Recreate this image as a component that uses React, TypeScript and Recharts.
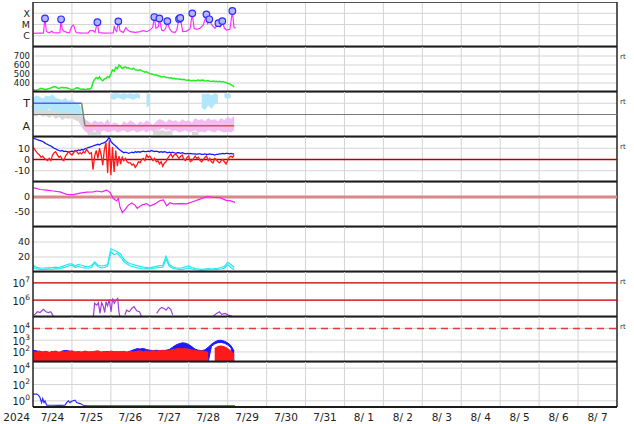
import React from 'react';
import { ComposedChart, Line, Area, XAxis, YAxis, CartesianGrid, ReferenceLine } from 'recharts';

// time axis is hours since 2024-07-24 00:00 UT, 15 days wide
const YEAR = '2024';
const dayLabels = ['7/24', '7/25', '7/26', '7/27', '7/28', '7/29', '7/30', '7/31', '8/ 1', '8/ 2', '8/ 3', '8/ 4', '8/ 5', '8/ 6', '8/ 7'];

// X-ray flux (uW/m2): background + flare peaks
const xrayHours = [0.2, 3, 6.4, 8.2, 9.5, 10.5, 11.5, 12.5, 14.5, 16.6, 17.9, 18.7, 20.8, 22.5, 23.8, 24.9, 25.5, 26.3, 26.9, 30, 34.1, 35.1, 37.2, 38.2, 40.5, 44, 49.5, 50.1, 50.8, 51.6, 53.6, 55.7, 57.3, 58.4, 59.8, 63, 66, 68, 70.1, 72.1, 73.8, 75.8, 77.3, 79.3, 80.4, 81.8, 84, 85.5, 87.5, 88.6, 92.3, 94.7, 96.8, 99.3, 100.9, 103, 105, 107.7, 110.2, 112.2, 115.3, 118, 119.4, 121.4, 123.9, 124.9];
const xrayFlux = [1.64, 1.7, 1.7, 2.4, 1.9, 2.0, 2.6, 1.9, 1.8, 1.9, 4.6, 2.6, 2.0, 1.9, 6.4, 9.0, 5.6, 2.3, 1.9, 1.7, 1.8, 2.8, 2.8, 2.0, 1.9, 1.7, 1.8, 7.4, 3.2, 2.3, 2.8, 2.0, 5.2, 3.2, 2.3, 2.0, 2.3, 2.8, 2.3, 3.2, 5.6, 4.6, 6.4, 3.2, 2.6, 4.6, 4.6, 2.3, 1.9, 3.2, 2.3, 2.6, 4.0, 4.6, 3.7, 4.6, 9.0, 12.7, 9.0, 4.6, 6.4, 4.6, 3.2, 3.7, 5.6, 4.6];
const flareHours = [7.4, 17.3, 39.7, 52.6, 74.8, 77.9, 82.8, 90.0, 90.8, 98.2, 106.9, 108.7, 114.3, 116.7, 122.9];
const flareFlux = [35, 29, 16, 19, 46, 35, 20, 31, 38, 98, 80, 29, 13, 20, 158];

// solar wind speed (km/s), hourly
const windSpeed = [
  328, 322, 320, 326, 333, 340, 336, 330, 328, 334,
  338, 345, 352, 362, 358, 345, 342, 348, 352, 345,
  350, 344, 338, 332, 328, 330, 338, 348, 342, 332,
  330, 334, 328, 330, 336, 332, 345, 410, 440, 462,
  448, 470, 438, 425, 445, 452, 470, 462, 500, 545,
  530, 575, 558, 600, 585, 560, 572, 580, 565, 570,
  560, 552, 565, 548, 545, 540, 548, 535, 530, 520,
  525, 512, 505, 500, 496, 488, 492, 480, 478, 470,
  466, 472, 462, 460, 455, 458, 450, 452, 445, 448,
  440, 444, 436, 440, 434, 430, 432, 428, 426, 430,
  424, 428, 432, 426, 434, 430, 425, 422, 428, 420,
  418, 422, 416, 420, 415, 418, 412, 416, 410, 405,
  398, 392, 380, 372, 355,
];

// IMF sector: [hour, low, high] on a 0..4 scale (A = 1, T = 3)
const imfMixed: [number, number, number][] = [
  [0, 1.9, 2.5], [2, 1.8, 2.4], [4, 2.0, 2.6], [6, 1.8, 2.3], [8, 1.9, 2.5], [10, 1.7, 2.4], [12, 1.9, 2.4], [14, 1.6, 2.3],
  [16, 1.8, 2.5], [18, 1.5, 2.2], [20, 1.7, 2.4], [22, 1.6, 2.2], [24, 1.7, 2.3], [26, 1.5, 2.1], [28, 1.4, 2.2], [30, 0.9, 2.0],
  [32, 0.8, 1.4], [34, 0.15, 0.5], [36, 0.2, 0.6], [38, 0.15, 0.45], [40, 0.2, 0.55], [42, 0.15, 0.5],
  [74, 0.15, 0.6], [76, 0.2, 0.7], [78, 0.15, 0.55], [80, 0.2, 0.65], [82, 0.15, 0.5], [84, 0.2, 0.6], [86, 0.15, 0.5],
  [98, 0.15, 0.45], [100, 0.2, 0.5], [102, 0.15, 0.4],
];
const imfToward: [number, number, number][] = [
  [0, 2.4, 3.5], [2, 2.3, 3.7], [4, 2.5, 3.6], [6, 2.3, 3.4], [8, 2.4, 3.7], [10, 2.5, 3.6], [12, 2.3, 3.8], [14, 2.2, 3.5],
  [16, 2.4, 3.4], [18, 2.1, 3.3], [20, 2.3, 3.5], [22, 2.1, 3.2], [24, 2.2, 3.4], [26, 2.0, 3.1], [28, 2.1, 3.0], [30, 1.6, 2.6],
  [48, 3.4, 3.8], [50, 3.3, 3.9], [52, 3.5, 3.9], [54, 3.4, 3.8], [56, 3.3, 3.9], [58, 3.5, 3.8], [60, 3.4, 3.9], [62, 3.3, 3.8],
  [64, 3.5, 3.9], [66, 3.4, 3.8], [70, 2.6, 3.9], [72, 2.8, 3.8],
  [104, 2.6, 3.9], [106, 2.4, 3.8], [108, 2.8, 3.9], [110, 2.5, 3.7], [112, 2.9, 3.9], [114, 3.0, 3.8],
  [118, 3.5, 3.9], [120, 3.4, 3.9], [122, 3.5, 3.8],
];
const imfAway: [number, number, number][] = [
  [30, 0.9, 1.7], [32, 0.5, 1.6], [34, 0.4, 1.4], [36, 0.5, 1.2], [38, 0.6, 1.5], [40, 0.4, 1.3], [42, 0.5, 1.4], [44, 0.6, 1.2],
  [46, 0.4, 1.6], [48, 0.5, 1.1], [50, 0.6, 1.3], [52, 0.4, 1.2], [54, 0.5, 1.0], [56, 0.6, 1.4], [58, 0.4, 1.2], [60, 0.5, 1.5],
  [62, 0.6, 1.3], [64, 0.4, 1.1], [66, 0.5, 1.4], [68, 0.6, 1.2], [70, 0.4, 1.5], [72, 0.6, 1.3], [74, 0.5, 1.1], [76, 0.7, 1.4],
  [78, 0.6, 1.6], [80, 0.8, 1.5], [82, 0.6, 1.3], [84, 0.7, 1.6], [86, 0.5, 1.4], [88, 0.6, 1.5], [90, 0.4, 1.3], [92, 0.5, 1.6],
  [94, 0.6, 1.4], [96, 0.4, 1.5], [98, 0.5, 1.3], [100, 0.6, 1.7], [102, 0.4, 1.5], [104, 0.5, 1.6], [106, 0.4, 1.4], [108, 0.6, 1.7],
  [110, 0.5, 1.5], [112, 0.4, 1.6], [114, 0.6, 1.4], [116, 0.5, 1.7], [118, 0.4, 1.5], [120, 0.5, 1.8], [122, 0.4, 1.6], [124, 0.6, 1.9],
];
const sectorSteps: [number, number][] = [[0, 3], [30, 3], [32, 1], [124, 1]];

// IMF Bt and Bz (nT), hourly
const imfBt = [
  19, 18.5, 18, 17.5, 17, 16.5, 16, 15, 14, 13.5,
  12.5, 12, 11, 10, 9.5, 8.5, 8, 7.5, 8, 7,
  7.5, 7, 6.5, 7, 7.5, 7, 8, 7.5, 8.5, 8,
  9, 8.5, 9.5, 10, 10.5, 11, 11.5, 12, 12.5, 13,
  13.5, 13, 14, 14.5, 15, 16, 17.5, 20, 16, 14.5,
  13, 12, 10.5, 9, 8, 7, 6, 6.5, 6, 5.5,
  6, 6.5, 6, 7, 6.5, 7, 6.5, 7, 7.5, 7,
  7, 7.5, 7, 8, 7.5, 7, 7.5, 7, 6.5, 7,
  6.5, 7, 6.5, 6, 6.5, 6, 6.5, 6, 5.5, 6,
  6, 5.5, 6, 5.5, 5, 5.5, 5, 5.5, 5, 5,
  5, 4.5, 5, 5, 4.5, 4.5, 5, 4.5, 4.5, 5,
  4.5, 4.5, 4, 4.5, 4.5, 5, 5, 5.5, 5, 5.5,
  5.5, 5, 5.5, 5, 5,
];
const imfBz = [
  11, 9, 7, 5, 4, 2, 3, 1, 0, -1,
  1, -1, 4, 6, 7, 4, 2, 3, 0, -1,
  3, 5, 7, 5, 4, 6, 8, 7, 5, 6,
  5, 7, 6, 9, 7, 5, 6, -9, 3, 8,
  1, 10, 4, -5, 9, 15, -12, 17, -14, 11,
  -11, 8, -6, 3, -4, 2, -1, 1, -2, -3,
  -3, -5, -4, -7, -5, -2, -3, 0, 1, -1,
  4, 2, 3, 1, -1, 1, -2, -1, -4, -2,
  -6, -3, -2, 1, 3, 5, 2, 4, 5, 3,
  1, 3, 4, 0, -1, 2, 3, -2, -1, 1,
  3, 1, 2, -1, -2, 0, 2, 3, -1, 1,
  -2, -3, 1, 0, -2, -3, -1, 0, -2, -4,
  -1, 2, 3, 2, 4,
];

// Dst index (nT)
const dstHours = [0.2, 4.3, 8.4, 12.5, 16.6, 20.8, 24.9, 29, 33.1, 37.2, 39.3, 42.3, 45.4, 47.5, 49.5, 51.6, 52.6, 53.6, 55.1, 56.7, 58.8, 60.8, 62.9, 64.3, 67, 70, 72.1, 75.2, 78.3, 80.4, 82.4, 84.5, 86.5, 90.6, 94.7, 98.8, 102.9, 106, 108.1, 111.2, 115.3, 117.3, 119.4, 121.4, 124.5];
const dstValues = [31, 25, 23, 20, 17, 9, 8, 13, 16, 17, 20, 17, 23, 15, -5, -13, -5, -33, -52, -42, -27, -20, -27, -38, -27, -22, -30, -23, -12, -10, -29, -19, -23, -22, -23, -15, -7, -1, 1, -1, -2, -7, -12, -12, -18];

// proton density (/cc), two monitors, every 2 h
const densityLow = [
  6, 4.5, 3.5, 3, 3.5, 4, 3.5, 4.5, 4, 5.5,
  6.5, 8, 9, 6, 7.5, 6, 5.5, 5, 6, 12,
  7, 5.5, 6, 7.5, 27, 23, 25, 20, 14, 10.5,
  8, 7, 5.5, 5, 4, 4.5, 4, 5, 5.5, 6,
  6.5, 17, 7.5, 5, 4, 3.5, 3, 4.5, 5.5, 4,
  3, 2.5, 2, 2.5, 3, 3, 3, 3.5, 4, 5,
  10, 6, 3,
];
const densityHigh = [
  9, 6.5, 5.5, 5, 5.5, 5.5, 6, 6.5, 6, 7.5,
  9, 10.5, 11, 8, 10, 9, 7.5, 7, 8.5, 13.5,
  9, 8, 8.5, 10, 31, 29, 27, 24, 17, 13,
  11, 10, 8.5, 7.5, 6.5, 6, 5.5, 6.5, 7.5, 8.5,
  9, 21, 10, 7, 5.5, 5, 5.5, 7, 8, 6,
  4.5, 4, 3.5, 4, 4.5, 4, 4.5, 5, 6, 7.5,
  13, 10, 6,
];

// >2 MeV electron flux, null = data gap
const elecHours = [0.2, 1.2, 2.7, 4.3, 6.4, 8, 9.5, 10.9, 12.1, 12.5, 13, 37.2, 38, 39.3, 40.3, 41.3, 42.3, 43.4, 44.2, 45, 46, 47, 48.1, 49.1, 50.1, 51.2, 52.2, 53, 53.6, 55, 56.7, 57.7, 59.4, 60.8, 62.3, 63.9, 65.6, 66.8, 68, 76.2, 77.9, 79.3, 80.8, 82, 83.4, 84.9, 86.1, 88, 111.2, 113.2, 114.9, 116.3, 118.4, 120.4, 122.5];
const elecFlux = [1.4e5, 1.5e5, 2.1e5, 1.9e5, 2.9e5, 2.1e5, 1.9e5, 2.1e5, 1.4e5, 1.1e5, null, 1.1e5, 6.5e5, 5.1e5, 7.1e5, 1.7e5, 7.1e5, 4.2e5, 1.9e5, 7.9e5, 4.6e5, 1.1e6, 2.1e5, 1.26e6, 6.5e5, 1.0e6, 1.26e6, 1.9e5, 1.1e5, null, 1.4e5, 2.6e5, 2.1e5, 3.3e5, 4.2e5, 2.4e5, 2.1e5, 1.2e5, null, 1.7e5, 2.9e5, 3.8e5, 3.3e5, 2.6e5, 3.8e5, 2.9e5, 1.4e5, null, 1.2e5, 1.7e5, 2.1e5, 1.5e5, 1.7e5, 1.35e5, 1.2e5];

// low-energy proton flux envelopes [hour, low, high]
const protonBlue: [number, number, number][] = [
  [0, 14, 140], [2, 14, 125], [4, 14, 110], [6, 14, 95], [8, 14, 105], [10, 14, 90], [12, 14, 110], [14, 14, 100],
  [16, 14, 85], [18, 14, 120], [20, 14, 135], [22, 14, 125], [24, 14, 95], [26, 14, 90], [28, 14, 100], [30, 14, 95],
  [32, 14, 105], [34, 14, 90], [36, 14, 100], [38, 14, 95], [40, 14, 105], [42, 14, 90], [44, 14, 100], [46, 14, 110],
  [48, 14, 95], [50, 14, 100], [52, 14, 90], [54, 14, 105], [56, 14, 100], [58, 14, 95], [60, 14, 120], [62, 14, 150],
  [64, 14, 190], [66, 14, 180], [68, 14, 200], [70, 14, 160], [72, 14, 140], [74, 14, 130], [76, 14, 140], [78, 14, 125],
  [80, 14, 130], [82, 14, 140], [84, 14, 160], [86, 14, 250], [88, 14, 380], [90, 14, 500], [92, 14, 590], [94, 14, 560],
  [96, 14, 430], [98, 14, 280], [100, 14, 170], [102, 14, 140], [104, 14, 130], [106, 14, 150], [108, 14, 250], [110, 300, 450],
  [112, 480, 700], [114, 620, 950], [116, 650, 980], [118, 550, 820], [120, 400, 600], [122, 230, 350], [124, 14, 120],
];
const protonRed: [number, number, number][] = [
  [0, 14, 110], [2, 14, 95], [4, 14, 120], [6, 14, 100], [8, 14, 115], [10, 14, 90], [12, 14, 105], [14, 14, 120],
  [16, 14, 95], [18, 14, 110], [20, 14, 100], [22, 14, 115], [24, 14, 125], [26, 14, 100], [28, 14, 110], [30, 14, 95],
  [32, 14, 120], [34, 14, 105], [36, 14, 100], [38, 14, 115], [40, 14, 125], [42, 14, 100], [44, 14, 110], [46, 14, 95],
  [48, 14, 120], [50, 14, 105], [52, 14, 110], [54, 14, 100], [56, 14, 115], [58, 14, 95], [60, 14, 110], [62, 14, 100],
  [64, 14, 115], [66, 14, 125], [68, 14, 105], [70, 14, 120], [72, 14, 110], [74, 14, 130], [76, 14, 115], [78, 14, 125],
  [80, 14, 140], [82, 14, 120], [84, 14, 130], [86, 14, 160], [88, 14, 180], [90, 14, 200], [92, 14, 185], [94, 14, 190],
  [96, 14, 170], [98, 14, 150], [100, 14, 130], [102, 14, 120], [104, 14, 125], [106, 14, 110], [108, 14, 90],
  [112, 14, 200], [114, 14, 300], [116, 14, 320], [118, 14, 280], [120, 14, 200], [122, 14, 120], [124, 14, 60],
];

// high-energy proton flux
const hiProtonHours = [0, 2.3, 3.3, 4.3, 5.3, 6.0, 6.8, 7.4, 8.4, 12, 16, 19.7, 20.8, 21.8, 22.8, 23.8, 25.9, 26.9, 29, 31, 33.1, 60, 90, 124.5];
const hiProtonFlux = [6.8, 6.8, 5.1, 2.6, 0.62, 1.95, 0.62, 1.0, 0.29, 0.29, 0.28, 0.29, 0.62, 1.0, 0.62, 0.9, 1.2, 0.62, 0.47, 0.29, 0.24, 0.24, 0.24, 0.24];

const FONT = '"DejaVu Sans", Verdana, sans-serif';
const W = 634;
const PH = 45;
const panelTop = (i: number) => 2 + PH * i;
const dayBounds = Array.from({ length: 14 }, (_, i) => (i + 1) * 24);
const labelTicks = [0, ...dayLabels.map((_, i) => 12 + i * 24)];

type Row = { h: number; [k: string]: any };
function mergeRows(cols: Record<string, Array<[number, any]>>): Row[] {
  const map = new Map<number, Row>();
  Object.entries(cols).forEach(([key, pts]) => {
    pts.forEach(([h, v]) => {
      const row = map.get(h) ?? { h };
      row[key] = v;
      map.set(h, row);
    });
  });
  return [...map.values()].sort((a, b) => a.h - b.h);
}
const zip = (hs: number[], vs: any[]) => hs.map((h, i) => [h, vs[i]] as [number, any]);
const byHour = (vs: number[], step = 1) => vs.map((v, i) => [i * step, v] as [number, number]);
const band = (rows: [number, number, number][]) => rows.map(([h, lo, hi]) => [h, [lo, hi]] as [number, any]);

const flarePts = zip(flareHours, flareFlux);
const xrayRows = mergeRows({ flux: [...zip(xrayHours, xrayFlux), ...flarePts], flare: flarePts });
const windRows = mergeRows({ v: byHour(windSpeed) });
const sectorRows = mergeRows({
  mixed: band(imfMixed),
  toward: band(imfToward),
  away: band(imfAway),
  polT: sectorSteps.slice(0, 2),
  polX: sectorSteps.slice(1, 3),
  polA: sectorSteps.slice(2, 4),
});
const imfRows = mergeRows({ bt: byHour(imfBt), bz: byHour(imfBz) });
const dstRows = mergeRows({ dst: zip(dstHours, dstValues) });
const densRows = mergeRows({ a: byHour(densityLow, 2), b: byHour(densityHigh, 2) });
const elecRows = mergeRows({ e: zip(elecHours, elecFlux) });
const protonRows = mergeRows({ blue: band(protonBlue), red: band(protonRed) });
const hiProtonRows = mergeRows({ p: zip(hiProtonHours, hiProtonFlux) });

const textTick = (labels: Record<number, string>, size = 9.5) => (p: any) => (
  <text x={p.x} y={p.y} dy={size * 0.36} textAnchor="end" fontSize={size} fontFamily={FONT} fill="#222">
    {labels[p.payload.value] ?? String(p.payload.value)}
  </text>
);
const powTick = (p: any) => (
  <text x={p.x} y={p.y} dy={4.5} textAnchor="end" fontSize={10} fontFamily={FONT} fill="#222">
    10<tspan dy={-5} fontSize={7.5}>{Math.round(Math.log10(p.payload.value))}</tspan>
  </text>
);
const XTick = (p: any) => {
  const v = p.payload.value;
  const first = v === 0;
  return (
    <text x={first ? p.x - 3 : p.x} y={p.y} dy={13} textAnchor={first ? 'end' : 'middle'} fontSize={10.5} fontFamily={FONT} fill="#222">
      {first ? YEAR : dayLabels[(v - 12) / 24]}
    </text>
  );
};
const FlareDot = (p: any) =>
  p.value == null || p.cy == null ? (
    <g key={p.key} />
  ) : (
    <circle key={p.key} cx={p.cx} cy={p.cy} r={3.3} fill="#b4b4ff" stroke="#2b2bff" strokeWidth={1.2} />
  );

// vertical grid at each UT midnight, taken from the time scale
const dayGrid = ({ xAxis, offset }: any) =>
  dayBounds.map((d) =>
    xAxis && typeof xAxis.scale === 'function' ? xAxis.scale(d) : offset.left + (d / 360) * offset.width
  );

function frame(yProps: any, last = false) {
  const items = [
    <CartesianGrid key="g" stroke="#d4d4d4" strokeWidth={1} verticalCoordinatesGenerator={dayGrid} />,
    <XAxis key="x" xAxisId={0} dataKey="h" type="number" domain={[0, 360]} ticks={dayBounds} allowDataOverflow
      tick={false} tickLine={false} height={1} axisLine={false} />,
    <YAxis key="y" width={33} type="number" allowDataOverflow interval={0} tickLine={false} tickSize={0} tickMargin={3}
      axisLine={{ stroke: '#222', strokeWidth: 1.5 }} {...yProps} />,
    <ReferenceLine key="rb" x={360} stroke="#222" strokeWidth={1.5} />,
  ];
  if (last) {
    items.push(
      <XAxis key="xl" xAxisId="lab" dataKey="h" type="number" domain={[0, 360]} ticks={labelTicks} interval={0}
        tickLine={false} axisLine={false} tickSize={0} tickMargin={0} height={17} tick={XTick} />
    );
  }
  return items;
}
// separator drawn at the bottom value of each panel's y-domain
const sep = (y: number, last = false) => (
  <ReferenceLine y={y} stroke="#1c1c1c" strokeWidth={last ? 2 : 3} />
);

const chartProps = { width: W, height: PH + 1, margin: { top: 0, right: 17, bottom: 0, left: 0 } };
const Rt = ({ i }: { i: number }) => (
  <span style={{ position: 'absolute', left: 620, top: panelTop(i) + 6, fontSize: 7, fontFamily: FONT, color: '#333' }}>rt</span>
);
const at = (i: number): React.CSSProperties => ({ position: 'absolute', left: 0, top: panelTop(i) });

export default function App() {
  return (
    <div style={{ position: 'absolute', left: 0, top: 0, width: W, height: 424, background: '#fff', overflow: 'hidden' }}>
      <div style={at(0)}>
        <ComposedChart {...chartProps} data={xrayRows}>
          {frame({ scale: 'log', domain: [0.1, 1000], ticks: [1, 10, 100], tick: textTick({ 1: 'C', 10: 'M', 100: 'X' }, 9.5) })}
          <ReferenceLine y={1000} stroke="#222" strokeWidth={1.5} />
          <Line dataKey="flux" stroke="#ff30ff" strokeWidth={1.2} dot={false} connectNulls isAnimationActive={false} />
          <Line dataKey="flare" stroke="none" dot={FlareDot} activeDot={false} isAnimationActive={false} />
          {sep(0.1)}
        </ComposedChart>
      </div>
      <div style={at(1)}>
        <ComposedChart {...chartProps} data={windRows}>
          {frame({ domain: [300, 800], ticks: [400, 500, 600, 700], tick: textTick({}, 8.5) })}
          <Line dataKey="v" stroke="#22ee22" strokeWidth={1.5} dot={false} isAnimationActive={false} />
          {sep(300)}
        </ComposedChart>
      </div>
      <div style={at(2)}>
        <ComposedChart {...chartProps} data={sectorRows}>
          {frame({ domain: [0, 4], ticks: [1, 3], tick: textTick({ 1: 'A', 3: 'T' }, 11) })}
          <ReferenceLine y={2} stroke="#777" strokeWidth={1} />
          <Area dataKey="mixed" type="linear" stroke="none" fill="#d8d8d8" fillOpacity={1} isAnimationActive={false} />
          <Area dataKey="toward" type="linear" stroke="none" fill="#b2e6fa" fillOpacity={1} isAnimationActive={false} />
          <Area dataKey="away" type="linear" stroke="none" fill="#f6bcf2" fillOpacity={1} isAnimationActive={false} />
          <Line dataKey="polT" stroke="#5a5aff" strokeWidth={1.5} dot={false} connectNulls isAnimationActive={false} />
          <Line dataKey="polX" stroke="#6f8f5f" strokeWidth={1.5} dot={false} connectNulls isAnimationActive={false} />
          <Line dataKey="polA" stroke="#e05050" strokeWidth={1.5} dot={false} connectNulls isAnimationActive={false} />
          {sep(0)}
        </ComposedChart>
      </div>
      <div style={at(3)}>
        <ComposedChart {...chartProps} data={imfRows}>
          {frame({ domain: [-20, 20], ticks: [-10, 0, 10], tick: textTick({}) })}
          <ReferenceLine y={0} stroke="#b00000" strokeWidth={1.3} />
          <Line dataKey="bt" stroke="#1a1aff" strokeWidth={1.3} dot={false} isAnimationActive={false} />
          <Line dataKey="bz" stroke="#ff1a1a" strokeWidth={1.3} dot={false} isAnimationActive={false} />
          {sep(-20)}
        </ComposedChart>
      </div>
      <div style={at(4)}>
        <ComposedChart {...chartProps} data={dstRows}>
          {frame({ domain: [-100, 50], ticks: [-50, 0], tick: textTick({}) })}
          <ReferenceLine y={0} stroke="#d98888" strokeWidth={3} />
          <Line dataKey="dst" stroke="#ee22ee" strokeWidth={1.2} dot={false} isAnimationActive={false} />
          {sep(-100)}
        </ComposedChart>
      </div>
      <div style={at(5)}>
        <ComposedChart {...chartProps} data={densRows}>
          {frame({ domain: [0, 60], ticks: [20, 40], tick: textTick({}) })}
          <Line dataKey="a" stroke="#22e8ee" strokeWidth={1.2} dot={false} isAnimationActive={false} />
          <Line dataKey="b" stroke="#22e8ee" strokeWidth={1.2} dot={false} isAnimationActive={false} />
          {sep(0)}
        </ComposedChart>
      </div>
      <div style={at(6)}>
        <ComposedChart {...chartProps} data={elecRows}>
          {frame({ scale: 'log', domain: [1.05e5, 4.2e7], ticks: [1e6, 1e7], tick: powTick })}
          <ReferenceLine y={1e6} stroke="#cc0000" strokeWidth={1.3} />
          <ReferenceLine y={1e7} stroke="#cc0000" strokeWidth={1.3} />
          <Line dataKey="e" stroke="#a040d0" strokeWidth={1.2} dot={false} isAnimationActive={false} />
          {sep(1.05e5)}
        </ComposedChart>
      </div>
      <div style={at(7)}>
        <ComposedChart {...chartProps} data={protonRows}>
          {frame({ scale: 'log', domain: [14, 9.3e4], ticks: [1e2, 1e3, 1e4], tick: powTick })}
          <ReferenceLine y={1e4} stroke="#e03c3c" strokeWidth={1.5} strokeDasharray="7 5" />
          <Area dataKey="blue" type="linear" stroke="#1a1aff" strokeWidth={1} fill="#1a1aff" fillOpacity={1} isAnimationActive={false} />
          <Area dataKey="red" type="linear" stroke="#ff1a1a" strokeWidth={1} fill="#ff1a1a" fillOpacity={1} isAnimationActive={false} />
          {sep(14)}
        </ComposedChart>
      </div>
      <div style={at(8)}>
        <ComposedChart {...chartProps} height={PH + 18} data={hiProtonRows}>
          {frame({ scale: 'log', domain: [0.178, 56234], ticks: [1, 100, 1e4], tick: powTick }, true)}
          <Line dataKey="p" stroke="#2a2aff" strokeWidth={1.2} dot={false} isAnimationActive={false} />
          {sep(0.178, true)}
        </ComposedChart>
      </div>
      {[1, 2, 3, 6, 7].map((i) => <Rt key={i} i={i} />)}
    </div>
  );
}
